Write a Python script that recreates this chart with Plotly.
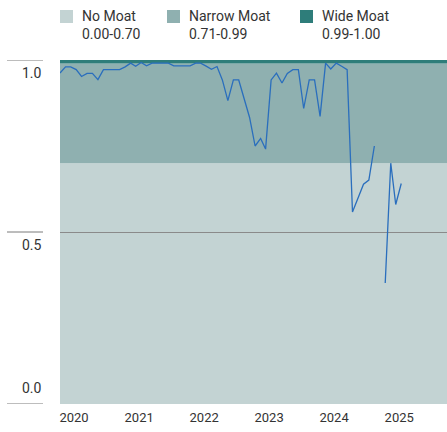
import pandas as pd
import plotly.graph_objects as go

# ---------------- data ----------------
start_month = "2020-01-01"
moat_values = [
    0.962, 0.980, 0.980, 0.972, 0.952, 0.961, 0.961, 0.943, 0.972, 0.972, 0.972, 0.972,
    0.980, 0.991, 0.982, 0.993, 0.983, 0.991, 0.991, 0.991, 0.991, 0.983, 0.983, 0.983,
    0.983, 0.991, 0.991, 0.982, 0.973, 0.981, 0.942, 0.882, 0.942, 0.942, 0.888, 0.833,
    0.750, 0.772, 0.741, 0.942, 0.962, 0.933, 0.961, 0.972, 0.972, 0.859, 0.942, 0.942,
    0.836, 0.991, 0.974, 0.991, 0.982, 0.972, 0.558, 0.600, 0.639, 0.651, 0.750, None,
    0.352, 0.700, 0.580, 0.641,
]
band_names = ["No Moat", "Narrow Moat", "Wide Moat"]
band_ranges = ["0.00-0.70", "0.71-0.99", "0.99-1.00"]
band_lower = [0.0, 0.70, 0.99]
band_upper = [0.70, 0.99, 1.00]
band_colors = ["#c3d3d3", "#8fb0b0", "#2e7d7a"]
ytick_vals = [0.0, 0.5, 1.0]
ytick_text = ["0.0", "0.5", "1.0"]
xtick_years = [2020, 2021, 2022, 2023, 2024, 2025]

# ---------------- layout constants ----------------
W, H = 447, 432
ML, MR, MT, MB = 60, 0, 60, 28
PW, PH = W - ML - MR, H - MT - MB
FONT = "Roboto, Arial, sans-serif"
TXT = "#333333"


def px_x(p):
    return (p - ML) / PW


def px_y(p):
    return 1 + (MT - p) / PH


dates = pd.date_range(start_month, periods=len(moat_values), freq="MS")

fig = go.Figure()
fig.add_trace(go.Scatter(
    x=dates, y=moat_values, mode="lines", connectgaps=False,
    line=dict(color="#2a6ebd", width=1.3), showlegend=False, hoverinfo="skip",
))

shapes = []
annotations = []
# moat bands
for lo, hi, c in zip(band_lower, band_upper, band_colors):
    shapes.append(dict(type="rect", xref="paper", yref="y", x0=0, x1=1, y0=lo, y1=hi,
                       fillcolor=c, line=dict(width=0), layer="below"))

# legend (squares + two-line labels)
legend_left_px = [60, 167, 300]
for name, rng, c, lx in zip(band_names, band_ranges, band_colors, legend_left_px):
    shapes.append(dict(type="rect", xref="paper", yref="paper",
                       x0=px_x(lx), x1=px_x(lx + 13), y0=px_y(23), y1=px_y(10),
                       fillcolor=c, line=dict(width=0)))
    annotations.append(dict(xref="paper", yref="paper", x=px_x(lx + 20), y=px_y(6),
                            xanchor="left", yanchor="top", align="left", showarrow=False,
                            text=f"{name}<br>{rng}",
                            font=dict(family=FONT, size=14, color=TXT)))

# y ticks: short lines at left plus labels
for v, t in zip(ytick_vals, ytick_text):
    shapes.append(dict(type="line", xref="paper", yref="y", x0=px_x(7), x1=px_x(43),
                       y0=v, y1=v, line=dict(color="#7a7a7a", width=1)))
    annotations.append(dict(xref="paper", yref="y", x=px_x(44), y=v,
                            yshift=(16 if v == 0 else -13),
                            xanchor="right", yanchor="middle", showarrow=False, text=t,
                            font=dict(family=FONT, size=14, color=TXT)))

fig.update_layout(
    width=W, height=H,
    margin=dict(l=ML, r=MR, t=MT, b=MB, pad=0),
    paper_bgcolor="white", plot_bgcolor="white",
    shapes=shapes, annotations=annotations,
    showlegend=False,
    xaxis=dict(
        type="date", range=["2020-01-01", "2025-12-14"],
        tickvals=[f"{y}-01-01" for y in xtick_years],
        ticktext=[str(y) for y in xtick_years],
        ticklabelshift=14, ticklabelstandoff=4, ticks="", showgrid=False,
        zeroline=False, showline=False,
        tickfont=dict(family=FONT, size=13, color=TXT),
    ),
    yaxis=dict(
        range=[0, 1.0], tickvals=ytick_vals, showticklabels=False, ticks="",
        showgrid=True, gridcolor="#8a8a8a", gridwidth=1, zeroline=False, showline=False,
    ),
)

fig.write_html(
    "out.html",
    config={"displayModeBar": False},
    post_script="document.body.style.margin='0';document.body.style.overflow='hidden';",
)
